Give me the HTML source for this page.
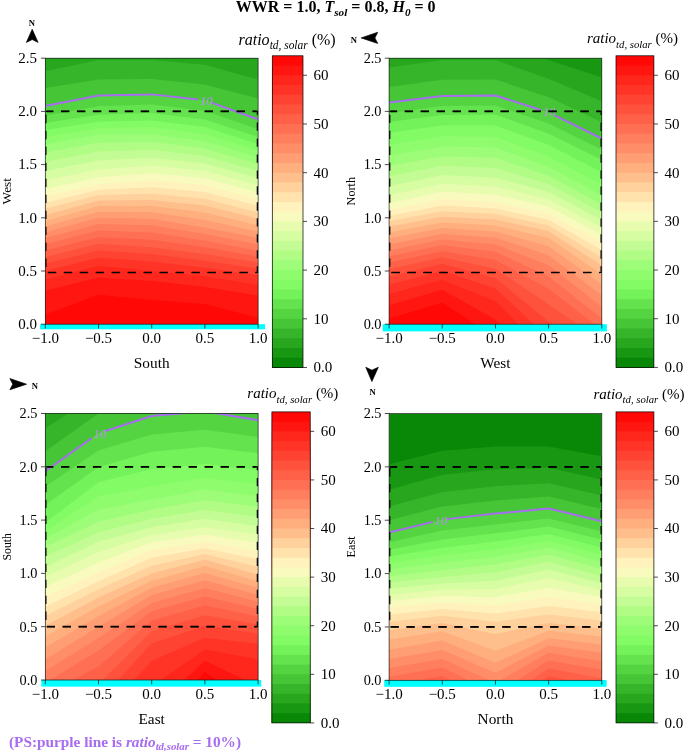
<!DOCTYPE html>
<html><head><meta charset="utf-8"><title>Figure</title><style>html,body{margin:0;padding:0;background:#fff}svg{display:block}</style></head><body>
<svg width="685" height="754" viewBox="0 0 685 754" font-family="'Liberation Serif', serif">
<rect width="685" height="754" fill="#fff"/>
<clipPath id="c0"><rect x="45.3" y="58.2" width="212.8" height="266"/></clipPath>
<g clip-path="url(#c0)">
<rect x="45.3" y="58.2" width="212.8" height="266" fill="#088806"/>
<path d="M45.3,37.51 98.5,24.51 151.7,25.47 204.9,28.62 258.1,32.19 258.1,724.2 45.3,724.2 Z" fill="#179712"/>
<path d="M45.3,54.4 98.5,42.24 151.7,42.7 204.9,46.55 258.1,55.84 258.1,724.2 45.3,724.2 Z" fill="#27a61e"/>
<path d="M45.3,71.29 98.5,60 151.7,59.95 204.9,64.79 258.1,79.48 258.1,724.2 45.3,724.2 Z" fill="#36b52a"/>
<path d="M45.3,88.1 98.5,79.45 151.7,78.88 204.9,84.62 258.1,98.63 258.1,724.2 45.3,724.2 Z" fill="#46c536"/>
<path d="M45.3,106.08 98.5,95.44 151.7,94.38 204.9,100.33 258.1,119.38 258.1,724.2 45.3,724.2 Z" fill="#55d442"/>
<path d="M45.3,115.87 98.5,106.19 151.7,104.59 204.9,110.79 258.1,129.23 258.1,724.2 45.3,724.2 Z" fill="#65e34e"/>
<path d="M45.3,123.1 98.5,114.8 151.7,113 204.9,119.38 258.1,136.94 258.1,724.2 45.3,724.2 Z" fill="#74f25a"/>
<path d="M45.3,130.1 98.5,121.87 151.7,120.46 204.9,127.08 258.1,144.05 258.1,724.2 45.3,724.2 Z" fill="#82fb64"/>
<path d="M45.3,137.03 98.5,128.14 151.7,127.28 204.9,134.12 258.1,150.56 258.1,724.2 45.3,724.2 Z" fill="#8efc6d"/>
<path d="M45.3,144.38 98.5,134.81 151.7,134.28 204.9,141.19 258.1,157.15 258.1,724.2 45.3,724.2 Z" fill="#9dfd78"/>
<path d="M45.3,152.62 98.5,142.66 151.7,141.84 204.9,148.58 258.1,164.08 258.1,724.2 45.3,724.2 Z" fill="#b0fc85"/>
<path d="M45.3,161.67 98.5,151.42 151.7,149.7 204.9,156.07 258.1,171.12 258.1,724.2 45.3,724.2 Z" fill="#c3fc94"/>
<path d="M45.3,171.12 98.5,160.59 151.7,157.7 204.9,163.57 258.1,178.21 258.1,724.2 45.3,724.2 Z" fill="#d7fda2"/>
<path d="M45.3,180.37 98.5,169.41 151.7,165.62 204.9,171 258.1,185.29 258.1,724.2 45.3,724.2 Z" fill="#e8fcb0"/>
<path d="M45.3,188.9 98.5,177.35 151.7,173.29 204.9,178.28 258.1,192.3 258.1,724.2 45.3,724.2 Z" fill="#f8fbbd"/>
<path d="M45.3,196.52 98.5,184.28 151.7,180.56 204.9,185.35 258.1,199.18 258.1,724.2 45.3,724.2 Z" fill="#fff2bc"/>
<path d="M45.3,202.91 98.5,189.8 151.7,187.32 204.9,192.03 258.1,205.9 258.1,724.2 45.3,724.2 Z" fill="#ffe2ac"/>
<path d="M45.3,208.86 98.5,194.92 151.7,193.75 204.9,198.65 258.1,212.48 258.1,724.2 45.3,724.2 Z" fill="#ffd19d"/>
<path d="M45.3,215 98.5,200.44 151.7,199.96 204.9,205.47 258.1,218.9 258.1,724.2 45.3,724.2 Z" fill="#ffbf8c"/>
<path d="M45.3,220.99 98.5,206.1 151.7,206.1 204.9,212.48 258.1,225.25 258.1,724.2 45.3,724.2 Z" fill="#ffae7e"/>
<path d="M45.3,226.58 98.5,211.85 151.7,212.29 204.9,219.97 258.1,231.63 258.1,724.2 45.3,724.2 Z" fill="#ff9e74"/>
<path d="M45.3,232.16 98.5,217.8 151.7,218.65 204.9,227.38 258.1,238.02 258.1,724.2 45.3,724.2 Z" fill="#ff8e68"/>
<path d="M45.3,238.07 98.5,224.08 151.7,225.37 204.9,234.12 258.1,244.47 258.1,724.2 45.3,724.2 Z" fill="#ff7e5e"/>
<path d="M45.3,244.19 98.5,230.57 151.7,232.38 204.9,240.68 258.1,250.78 258.1,724.2 45.3,724.2 Z" fill="#ff6f53"/>
<path d="M45.3,250.52 98.5,237.15 151.7,239.8 204.9,247.29 258.1,256.64 258.1,724.2 45.3,724.2 Z" fill="#ff6048"/>
<path d="M45.3,257.06 98.5,243.87 151.7,247.27 204.9,253.98 258.1,262.49 258.1,724.2 45.3,724.2 Z" fill="#ff523d"/>
<path d="M45.3,263.6 98.5,250.62 151.7,254.12 204.9,260.67 258.1,268.49 258.1,724.2 45.3,724.2 Z" fill="#ff4332"/>
<path d="M45.3,270.68 98.5,257.7 151.7,261.42 204.9,267.81 258.1,275.26 258.1,724.2 45.3,724.2 Z" fill="#ff3427"/>
<path d="M45.3,279.51 98.5,265.68 151.7,271 204.9,276.32 258.1,284.83 258.1,724.2 45.3,724.2 Z" fill="#ff261c"/>
<path d="M45.3,290.79 98.5,277.38 151.7,281.11 204.9,286.96 258.1,295.47 258.1,724.2 45.3,724.2 Z" fill="#ff1611"/>
<path d="M45.3,314.62 98.5,294.83 151.7,299.94 204.9,303.98 258.1,317.82 258.1,724.2 45.3,724.2 Z" fill="#ff0806"/>
<polyline points="45.3,106.08 98.5,95.44 151.7,94.38 198,99.56" fill="none" stroke="#a86cf0" stroke-width="2.0"/>
<polyline points="212,102.88 258.1,119.38" fill="none" stroke="#a86cf0" stroke-width="2.0"/>
<text x="206.3" y="105" font-size="12.8" font-style="italic" fill="#bd8af5" fill-opacity="1" text-anchor="middle">10</text>
</g>
<clipPath id="d0"><rect x="46.6" y="58.2" width="210.1" height="266"/></clipPath>
<path d="M45.8,111.4 H257.5 V272.49 H45.8 Z" stroke="#000" stroke-width="1.1" stroke-dasharray="8.3 7.67" stroke-dashoffset="0.8" fill="none"/>
<path d="M45.8,111.4 H257.5 V272.49 H45.8 Z" stroke="#000" stroke-width="1.7" stroke-dasharray="8.3 7.67" stroke-dashoffset="0.8" fill="none" clip-path="url(#d0)"/>
<rect x="40.1" y="324.2" width="224.9" height="5.1" fill="#00ffff"/>
<rect x="45.3" y="58.2" width="212.8" height="266" fill="none" stroke="#1a1a1a" stroke-width="0.7"/>
<path d="M45.3,324.2 v4.3 M98.5,324.2 v4.3 M151.7,324.2 v4.3 M204.9,324.2 v4.3 M258.1,324.2 v4.3 M45.3,324.2 h-4.3 M45.3,271 h-4.3 M45.3,217.8 h-4.3 M45.3,164.6 h-4.3 M45.3,111.4 h-4.3 M45.3,58.2 h-4.3" stroke="#111" stroke-width="0.75" fill="none"/>
<g font-size="15" fill="#000">
<text x="45.3" y="343.1" text-anchor="middle">−1.0</text>
<text x="98.5" y="343.1" text-anchor="middle">−0.5</text>
<text x="151.7" y="343.1" text-anchor="middle">0.0</text>
<text x="204.9" y="343.1" text-anchor="middle">0.5</text>
<text x="258.1" y="343.1" text-anchor="middle">1.0</text>
<text x="37" y="329" font-size="15" text-anchor="end">0.0</text>
<text x="37" y="275.8" font-size="15" text-anchor="end">0.5</text>
<text x="37" y="222.6" font-size="15" text-anchor="end">1.0</text>
<text x="37" y="169.4" font-size="15" text-anchor="end">1.5</text>
<text x="37" y="116.2" font-size="15" text-anchor="end">2.0</text>
<text x="37" y="63" font-size="15" text-anchor="end">2.5</text>
</g>
<text x="151.7" y="367.7" font-size="15.3" text-anchor="middle">South</text>
<text x="11.3" y="191.2" font-size="13.4" text-anchor="middle" transform="rotate(-90 11.3 191.2)">West</text>
<rect x="272.3" y="55.8" width="30.7" height="311.7" fill="#ff0806"/>
<rect x="272.3" y="65.54" width="30.7" height="301.96" fill="#ff1611"/>
<rect x="272.3" y="75.28" width="30.7" height="292.22" fill="#ff261c"/>
<rect x="272.3" y="85.02" width="30.7" height="282.48" fill="#ff3427"/>
<rect x="272.3" y="94.76" width="30.7" height="272.74" fill="#ff4332"/>
<rect x="272.3" y="104.5" width="30.7" height="263" fill="#ff523d"/>
<rect x="272.3" y="114.24" width="30.7" height="253.26" fill="#ff6048"/>
<rect x="272.3" y="123.98" width="30.7" height="243.52" fill="#ff6f53"/>
<rect x="272.3" y="133.73" width="30.7" height="233.77" fill="#ff7e5e"/>
<rect x="272.3" y="143.47" width="30.7" height="224.03" fill="#ff8e68"/>
<rect x="272.3" y="153.21" width="30.7" height="214.29" fill="#ff9e74"/>
<rect x="272.3" y="162.95" width="30.7" height="204.55" fill="#ffae7e"/>
<rect x="272.3" y="172.69" width="30.7" height="194.81" fill="#ffbf8c"/>
<rect x="272.3" y="182.43" width="30.7" height="185.07" fill="#ffd19d"/>
<rect x="272.3" y="192.17" width="30.7" height="175.33" fill="#ffe2ac"/>
<rect x="272.3" y="201.91" width="30.7" height="165.59" fill="#fff2bc"/>
<rect x="272.3" y="211.65" width="30.7" height="155.85" fill="#f8fbbd"/>
<rect x="272.3" y="221.39" width="30.7" height="146.11" fill="#e8fcb0"/>
<rect x="272.3" y="231.13" width="30.7" height="136.37" fill="#d7fda2"/>
<rect x="272.3" y="240.87" width="30.7" height="126.63" fill="#c3fc94"/>
<rect x="272.3" y="250.61" width="30.7" height="116.89" fill="#b0fc85"/>
<rect x="272.3" y="260.35" width="30.7" height="107.15" fill="#9dfd78"/>
<rect x="272.3" y="270.09" width="30.7" height="97.41" fill="#8efc6d"/>
<rect x="272.3" y="279.83" width="30.7" height="87.67" fill="#82fb64"/>
<rect x="272.3" y="289.57" width="30.7" height="77.93" fill="#74f25a"/>
<rect x="272.3" y="299.32" width="30.7" height="68.18" fill="#65e34e"/>
<rect x="272.3" y="309.06" width="30.7" height="58.44" fill="#55d442"/>
<rect x="272.3" y="318.8" width="30.7" height="48.7" fill="#46c536"/>
<rect x="272.3" y="328.54" width="30.7" height="38.96" fill="#36b52a"/>
<rect x="272.3" y="338.28" width="30.7" height="29.22" fill="#27a61e"/>
<rect x="272.3" y="348.02" width="30.7" height="19.48" fill="#179712"/>
<rect x="272.3" y="357.76" width="30.7" height="9.74" fill="#088806"/>
<rect x="272.3" y="55.8" width="30.7" height="311.7" fill="none" stroke="#000" stroke-width="0.7"/>
<g font-size="15" fill="#000">
<text x="313.5" y="372.4">0.0</text>
<text x="313.5" y="323.7">10</text>
<text x="313.5" y="274.99">20</text>
<text x="313.5" y="226.29">30</text>
<text x="313.5" y="177.59">40</text>
<text x="313.5" y="128.88">50</text>
<text x="313.5" y="80.18">60</text>
</g>
<path d="M303,367.5 h4 M303,318.8 h4 M303,270.09 h4 M303,221.39 h4 M303,172.69 h4 M303,123.98 h4 M303,75.28 h4" stroke="#111" stroke-width="0.75" fill="none"/>
<text x="238.5" y="44.6" font-size="16"><tspan font-style="italic">ratio</tspan><tspan font-style="italic" font-size="11.41" dy="4.2">td, solar</tspan><tspan dy="-4.2"> (%)</tspan></text>
<clipPath id="c1"><rect x="389.1" y="58.2" width="212.7" height="266"/></clipPath>
<g clip-path="url(#c1)">
<rect x="389.1" y="58.2" width="212.7" height="266" fill="#088806"/>
<path d="M389.1,31.58 442.27,24.03 495.45,24.51 548.62,42.45 601.8,55.07 601.8,724.2 389.1,724.2 Z" fill="#179712"/>
<path d="M389.1,49.33 442.27,42.01 495.45,42.24 548.62,59.97 601.8,77.42 601.8,724.2 389.1,724.2 Z" fill="#27a61e"/>
<path d="M389.1,67.57 442.27,60.03 495.45,60 548.62,78.87 601.8,101.33 601.8,724.2 389.1,724.2 Z" fill="#36b52a"/>
<path d="M389.1,86.9 442.27,79.84 495.45,79.49 548.62,97.24 601.8,122.1 601.8,724.2 389.1,724.2 Z" fill="#46c536"/>
<path d="M389.1,102.57 442.27,95.97 495.45,95.44 548.62,112.46 601.8,138.64 601.8,724.2 389.1,724.2 Z" fill="#55d442"/>
<path d="M389.1,113.21 442.27,106.08 495.45,105.48 548.62,123.61 601.8,149.78 601.8,724.2 389.1,724.2 Z" fill="#65e34e"/>
<path d="M389.1,122.04 442.27,115.12 495.45,114.59 548.62,133.74 601.8,159.81 601.8,724.2 389.1,724.2 Z" fill="#74f25a"/>
<path d="M389.1,132.72 442.27,125.55 495.45,125.42 548.62,145.06 601.8,171.89 601.8,724.2 389.1,724.2 Z" fill="#82fb64"/>
<path d="M389.1,144.49 442.27,136.31 495.45,136.81 548.62,156.47 601.8,184.46 601.8,724.2 389.1,724.2 Z" fill="#8efc6d"/>
<path d="M389.1,155.56 442.27,146.51 495.45,147.58 548.62,166.73 601.8,195.46 601.8,724.2 389.1,724.2 Z" fill="#9dfd78"/>
<path d="M389.1,165.98 442.27,156.25 495.45,157.81 548.62,175.77 601.8,204.51 601.8,724.2 389.1,724.2 Z" fill="#b0fc85"/>
<path d="M389.1,176.37 442.27,165.87 495.45,167.96 548.62,184.1 601.8,212.49 601.8,724.2 389.1,724.2 Z" fill="#c3fc94"/>
<path d="M389.1,186.19 442.27,175.09 495.45,177.65 548.62,191.94 601.8,219.98 601.8,724.2 389.1,724.2 Z" fill="#d7fda2"/>
<path d="M389.1,195.14 442.27,183.76 495.45,186.64 548.62,199.4 601.8,227.28 601.8,724.2 389.1,724.2 Z" fill="#e8fcb0"/>
<path d="M389.1,203.17 442.27,191.78 495.45,194.87 548.62,206.58 601.8,234.63 601.8,724.2 389.1,724.2 Z" fill="#f8fbbd"/>
<path d="M389.1,210.35 442.27,199.18 495.45,202.37 548.62,213.54 601.8,242.27 601.8,724.2 389.1,724.2 Z" fill="#fff2bc"/>
<path d="M389.1,215.89 442.27,205.58 495.45,208.59 548.62,219.77 601.8,249.99 601.8,724.2 389.1,724.2 Z" fill="#ffe2ac"/>
<path d="M389.1,220.99 442.27,211.27 495.45,214.04 548.62,225.45 601.8,257.6 601.8,724.2 389.1,724.2 Z" fill="#ffd19d"/>
<path d="M389.1,226.63 442.27,216.77 495.45,219.53 548.62,231.24 601.8,265.49 601.8,724.2 389.1,724.2 Z" fill="#ffbf8c"/>
<path d="M389.1,232.44 442.27,222.43 495.45,225.45 548.62,238.02 601.8,274.19 601.8,724.2 389.1,724.2 Z" fill="#ffae7e"/>
<path d="M389.1,238.38 442.27,228.08 495.45,231.43 548.62,246.28 601.8,284.17 601.8,724.2 389.1,724.2 Z" fill="#ff9e74"/>
<path d="M389.1,244.4 442.27,233.68 495.45,237.64 548.62,255.33 601.8,295.16 601.8,724.2 389.1,724.2 Z" fill="#ff8e68"/>
<path d="M389.1,250.37 442.27,239.38 495.45,244.4 548.62,265.31 601.8,306.83 601.8,724.2 389.1,724.2 Z" fill="#ff7e5e"/>
<path d="M389.1,256.33 442.27,245.3 495.45,251.86 548.62,276.47 601.8,318.54 601.8,724.2 389.1,724.2 Z" fill="#ff6f53"/>
<path d="M389.1,262.5 442.27,251.26 495.45,259.91 548.62,289.09 601.8,329.76 601.8,724.2 389.1,724.2 Z" fill="#ff6048"/>
<path d="M389.1,269.18 442.27,257.27 495.45,268.68 548.62,304.38 601.8,340.87 601.8,724.2 389.1,724.2 Z" fill="#ff523d"/>
<path d="M389.1,276.69 442.27,263.65 495.45,278.13 548.62,321.72 601.8,351.98 601.8,724.2 389.1,724.2 Z" fill="#ff4332"/>
<path d="M389.1,284.81 442.27,271 495.45,288.36 548.62,338.08 601.8,363.1 601.8,724.2 389.1,724.2 Z" fill="#ff3427"/>
<path d="M389.1,293.98 442.27,279.7 495.45,301.34 548.62,354.41 601.8,374.21 601.8,724.2 389.1,724.2 Z" fill="#ff261c"/>
<path d="M389.1,305.24 442.27,289.75 495.45,319.6 548.62,370.74 601.8,385.32 601.8,724.2 389.1,724.2 Z" fill="#ff1611"/>
<path d="M389.1,318.83 442.27,302.6 495.45,337.5 548.62,387.07 601.8,396.43 601.8,724.2 389.1,724.2 Z" fill="#ff0806"/>
<polyline points="389.1,102.57 442.27,95.97 495.45,95.44 541,110.02" fill="none" stroke="#a86cf0" stroke-width="2.0"/>
<polyline points="554.6,115.41 601.8,138.64" fill="none" stroke="#a86cf0" stroke-width="2.0"/>
<text x="549.2" y="115.8" font-size="12.8" font-style="italic" fill="#bd8af5" fill-opacity="1" text-anchor="middle">10</text>
</g>
<clipPath id="d1"><rect x="390.4" y="58.2" width="210" height="266"/></clipPath>
<path d="M389.6,111.4 H601.2 V272.49 H389.6 Z" stroke="#000" stroke-width="1.1" stroke-dasharray="8.3 7.67" stroke-dashoffset="0.8" fill="none"/>
<path d="M389.6,111.4 H601.2 V272.49 H389.6 Z" stroke="#000" stroke-width="1.7" stroke-dasharray="8.3 7.67" stroke-dashoffset="0.8" fill="none" clip-path="url(#d1)"/>
<rect x="382.7" y="324.2" width="224.2" height="7.2" fill="#00ffff"/>
<rect x="389.1" y="58.2" width="212.7" height="266" fill="none" stroke="#1a1a1a" stroke-width="0.7"/>
<path d="M389.1,324.2 v4.3 M442.27,324.2 v4.3 M495.45,324.2 v4.3 M548.62,324.2 v4.3 M601.8,324.2 v4.3 M389.1,324.2 h-4.3 M389.1,271 h-4.3 M389.1,217.8 h-4.3 M389.1,164.6 h-4.3 M389.1,111.4 h-4.3 M389.1,58.2 h-4.3" stroke="#111" stroke-width="0.75" fill="none"/>
<g font-size="15" fill="#000">
<text x="389.1" y="343.1" text-anchor="middle">−1.0</text>
<text x="442.27" y="343.1" text-anchor="middle">−0.5</text>
<text x="495.45" y="343.1" text-anchor="middle">0.0</text>
<text x="548.62" y="343.1" text-anchor="middle">0.5</text>
<text x="601.8" y="343.1" text-anchor="middle">1.0</text>
<text x="381.5" y="329" font-size="14.3" text-anchor="end">0.0</text>
<text x="381.5" y="275.8" font-size="14.3" text-anchor="end">0.5</text>
<text x="381.5" y="222.6" font-size="14.3" text-anchor="end">1.0</text>
<text x="381.5" y="169.4" font-size="14.3" text-anchor="end">1.5</text>
<text x="381.5" y="116.2" font-size="14.3" text-anchor="end">2.0</text>
<text x="381.5" y="63" font-size="14.3" text-anchor="end">2.5</text>
</g>
<text x="495.45" y="367.7" font-size="15.3" text-anchor="middle">West</text>
<text x="355.1" y="191.2" font-size="12.2" text-anchor="middle" transform="rotate(-90 355.1 191.2)">North</text>
<rect x="616" y="55.8" width="37.9" height="311.6" fill="#ff0806"/>
<rect x="616" y="65.54" width="37.9" height="301.86" fill="#ff1611"/>
<rect x="616" y="75.28" width="37.9" height="292.12" fill="#ff261c"/>
<rect x="616" y="85.01" width="37.9" height="282.39" fill="#ff3427"/>
<rect x="616" y="94.75" width="37.9" height="272.65" fill="#ff4332"/>
<rect x="616" y="104.49" width="37.9" height="262.91" fill="#ff523d"/>
<rect x="616" y="114.22" width="37.9" height="253.17" fill="#ff6048"/>
<rect x="616" y="123.96" width="37.9" height="243.44" fill="#ff6f53"/>
<rect x="616" y="133.7" width="37.9" height="233.7" fill="#ff7e5e"/>
<rect x="616" y="143.44" width="37.9" height="223.96" fill="#ff8e68"/>
<rect x="616" y="153.18" width="37.9" height="214.22" fill="#ff9e74"/>
<rect x="616" y="162.91" width="37.9" height="204.49" fill="#ffae7e"/>
<rect x="616" y="172.65" width="37.9" height="194.75" fill="#ffbf8c"/>
<rect x="616" y="182.39" width="37.9" height="185.01" fill="#ffd19d"/>
<rect x="616" y="192.12" width="37.9" height="175.27" fill="#ffe2ac"/>
<rect x="616" y="201.86" width="37.9" height="165.54" fill="#fff2bc"/>
<rect x="616" y="211.6" width="37.9" height="155.8" fill="#f8fbbd"/>
<rect x="616" y="221.34" width="37.9" height="146.06" fill="#e8fcb0"/>
<rect x="616" y="231.07" width="37.9" height="136.32" fill="#d7fda2"/>
<rect x="616" y="240.81" width="37.9" height="126.59" fill="#c3fc94"/>
<rect x="616" y="250.55" width="37.9" height="116.85" fill="#b0fc85"/>
<rect x="616" y="260.29" width="37.9" height="107.11" fill="#9dfd78"/>
<rect x="616" y="270.02" width="37.9" height="97.38" fill="#8efc6d"/>
<rect x="616" y="279.76" width="37.9" height="87.64" fill="#82fb64"/>
<rect x="616" y="289.5" width="37.9" height="77.9" fill="#74f25a"/>
<rect x="616" y="299.24" width="37.9" height="68.16" fill="#65e34e"/>
<rect x="616" y="308.97" width="37.9" height="58.43" fill="#55d442"/>
<rect x="616" y="318.71" width="37.9" height="48.69" fill="#46c536"/>
<rect x="616" y="328.45" width="37.9" height="38.95" fill="#36b52a"/>
<rect x="616" y="338.19" width="37.9" height="29.21" fill="#27a61e"/>
<rect x="616" y="347.92" width="37.9" height="19.48" fill="#179712"/>
<rect x="616" y="357.66" width="37.9" height="9.74" fill="#088806"/>
<rect x="616" y="55.8" width="37.9" height="311.6" fill="none" stroke="#000" stroke-width="0.7"/>
<g font-size="15" fill="#000">
<text x="664.4" y="372.3">0.0</text>
<text x="664.4" y="323.61">10</text>
<text x="664.4" y="274.92">20</text>
<text x="664.4" y="226.24">30</text>
<text x="664.4" y="177.55">40</text>
<text x="664.4" y="128.86">50</text>
<text x="664.4" y="80.18">60</text>
</g>
<path d="M653.9,367.4 h4 M653.9,318.71 h4 M653.9,270.02 h4 M653.9,221.34 h4 M653.9,172.65 h4 M653.9,123.96 h4 M653.9,75.28 h4" stroke="#111" stroke-width="0.75" fill="none"/>
<text x="586.9" y="43.4" font-size="15"><tspan font-style="italic">ratio</tspan><tspan font-style="italic" font-size="10.7" dy="4.2">td, solar</tspan><tspan dy="-4.2"> (%)</tspan></text>
<clipPath id="c2"><rect x="45.3" y="413.5" width="212.8" height="266.5"/></clipPath>
<g clip-path="url(#c2)">
<rect x="45.3" y="413.5" width="212.8" height="266.5" fill="#088806"/>
<path d="M45.3,384.07 98.5,354.34 151.7,313.72 204.9,339.15 258.1,330.67 258.1,1080 45.3,1080 Z" fill="#179712"/>
<path d="M45.3,405.87 98.5,374.06 151.7,339.31 204.9,357.08 258.1,353.06 258.1,1080 45.3,1080 Z" fill="#27a61e"/>
<path d="M45.3,428.29 98.5,393.78 151.7,364.89 204.9,375.1 258.1,375.44 258.1,1080 45.3,1080 Z" fill="#36b52a"/>
<path d="M45.3,451.35 98.5,413.5 151.7,390.47 204.9,393.2 258.1,397.83 258.1,1080 45.3,1080 Z" fill="#46c536"/>
<path d="M45.3,471.28 98.5,433.22 151.7,416.06 204.9,411.37 258.1,420.22 258.1,1080 45.3,1080 Z" fill="#55d442"/>
<path d="M45.3,486.52 98.5,450.56 151.7,434.61 204.9,429.7 258.1,437.06 258.1,1080 45.3,1080 Z" fill="#65e34e"/>
<path d="M45.3,504.91 98.5,466.89 151.7,451.77 204.9,446.87 258.1,453.37 258.1,1080 45.3,1080 Z" fill="#74f25a"/>
<path d="M45.3,522.58 98.5,482.14 151.7,468.93 204.9,464.03 258.1,470 258.1,1080 45.3,1080 Z" fill="#82fb64"/>
<path d="M45.3,531.36 98.5,496.35 151.7,486.16 204.9,477.68 258.1,484.09 258.1,1080 45.3,1080 Z" fill="#8efc6d"/>
<path d="M45.3,538.74 98.5,509.57 151.7,499.48 204.9,489.55 258.1,496.35 258.1,1080 45.3,1080 Z" fill="#9dfd78"/>
<path d="M45.3,546.75 98.5,521.86 151.7,509.62 204.9,500.29 258.1,507.02 258.1,1080 45.3,1080 Z" fill="#b0fc85"/>
<path d="M45.3,556.44 98.5,532.23 151.7,518.76 204.9,509.91 258.1,516.8 258.1,1080 45.3,1080 Z" fill="#c3fc94"/>
<path d="M45.3,566.75 98.5,541.81 151.7,527.23 204.9,518.81 258.1,526.02 258.1,1080 45.3,1080 Z" fill="#d7fda2"/>
<path d="M45.3,576.93 98.5,551.93 151.7,534.92 204.9,527.14 258.1,534.62 258.1,1080 45.3,1080 Z" fill="#e8fcb0"/>
<path d="M45.3,587.07 98.5,562.49 151.7,542.37 204.9,534.84 258.1,542.87 258.1,1080 45.3,1080 Z" fill="#f8fbbd"/>
<path d="M45.3,597.1 98.5,572.46 151.7,549.95 204.9,541.95 258.1,551.01 258.1,1080 45.3,1080 Z" fill="#fff2bc"/>
<path d="M45.3,606.72 98.5,581.16 151.7,557.81 204.9,548.22 258.1,559.11 258.1,1080 45.3,1080 Z" fill="#ffe2ac"/>
<path d="M45.3,616.01 98.5,589.17 151.7,565.69 204.9,553.94 258.1,566.99 258.1,1080 45.3,1080 Z" fill="#ffd19d"/>
<path d="M45.3,625.68 98.5,597.39 151.7,573.4 204.9,559.66 258.1,574.49 258.1,1080 45.3,1080 Z" fill="#ffbf8c"/>
<path d="M45.3,636.32 98.5,606.52 151.7,580.68 204.9,565.94 258.1,581.45 258.1,1080 45.3,1080 Z" fill="#ffae7e"/>
<path d="M45.3,647.61 98.5,616.22 151.7,587.73 204.9,572.96 258.1,588.11 258.1,1080 45.3,1080 Z" fill="#ff9e74"/>
<path d="M45.3,659.16 98.5,626.7 151.7,594.98 204.9,580.31 258.1,594.8 258.1,1080 45.3,1080 Z" fill="#ff8e68"/>
<path d="M45.3,671.05 98.5,637.95 151.7,602.92 204.9,588.09 258.1,601.85 258.1,1080 45.3,1080 Z" fill="#ff7e5e"/>
<path d="M45.3,682.96 98.5,650.51 151.7,611.35 204.9,596.4 258.1,609 258.1,1080 45.3,1080 Z" fill="#ff6f53"/>
<path d="M45.3,694.81 98.5,666.52 151.7,620.51 204.9,605.38 258.1,616.37 258.1,1080 45.3,1080 Z" fill="#ff6048"/>
<path d="M45.3,706.65 98.5,684.3 151.7,631.16 204.9,615.28 258.1,624.46 258.1,1080 45.3,1080 Z" fill="#ff523d"/>
<path d="M45.3,718.49 98.5,701.49 151.7,643.3 204.9,626.12 258.1,633.65 258.1,1080 45.3,1080 Z" fill="#ff4332"/>
<path d="M45.3,730.34 98.5,718.69 151.7,660.67 204.9,637.68 258.1,643.77 258.1,1080 45.3,1080 Z" fill="#ff3427"/>
<path d="M45.3,742.18 98.5,735.88 151.7,686.06 204.9,649.44 258.1,659.51 258.1,1080 45.3,1080 Z" fill="#ff261c"/>
<path d="M45.3,754.03 98.5,753.07 151.7,710.28 204.9,660.81 258.1,686.35 258.1,1080 45.3,1080 Z" fill="#ff1611"/>
<path d="M45.3,765.87 98.5,770.27 151.7,734.51 204.9,671.79 258.1,711.73 258.1,1080 45.3,1080 Z" fill="#ff0806"/>
<polyline points="45.3,471.28 91.9,437.94" fill="none" stroke="#a86cf0" stroke-width="2.0"/>
<polyline points="105.5,430.96 151.7,416.06 204.9,411.37 258.1,420.22" fill="none" stroke="#a86cf0" stroke-width="2.0"/>
<text x="99.7" y="438" font-size="12.8" font-style="italic" fill="#bd8af5" fill-opacity="1" text-anchor="middle">10</text>
</g>
<clipPath id="d2"><rect x="46.6" y="413.5" width="210.1" height="266.5"/></clipPath>
<path d="M45.8,466.8 H257.5 V626.7 H45.8 Z" stroke="#000" stroke-width="1.1" stroke-dasharray="8.3 7.67" stroke-dashoffset="0.8" fill="none"/>
<path d="M45.8,466.8 H257.5 V626.7 H45.8 Z" stroke="#000" stroke-width="1.7" stroke-dasharray="8.3 7.67" stroke-dashoffset="0.8" fill="none" clip-path="url(#d2)"/>
<rect x="41.3" y="680" width="219.9" height="6.6" fill="#00ffff"/>
<rect x="45.3" y="413.5" width="212.8" height="266.5" fill="none" stroke="#1a1a1a" stroke-width="0.7"/>
<path d="M45.3,680 v4.3 M98.5,680 v4.3 M151.7,680 v4.3 M204.9,680 v4.3 M258.1,680 v4.3 M45.3,680 h-4.3 M45.3,626.7 h-4.3 M45.3,573.4 h-4.3 M45.3,520.1 h-4.3 M45.3,466.8 h-4.3 M45.3,413.5 h-4.3" stroke="#111" stroke-width="0.75" fill="none"/>
<g font-size="15" fill="#000">
<text x="45.3" y="698.9" text-anchor="middle">−1.0</text>
<text x="98.5" y="698.9" text-anchor="middle">−0.5</text>
<text x="151.7" y="698.9" text-anchor="middle">0.0</text>
<text x="204.9" y="698.9" text-anchor="middle">0.5</text>
<text x="258.1" y="698.9" text-anchor="middle">1.0</text>
<text x="37.4" y="684.8" font-size="14.3" text-anchor="end">0.0</text>
<text x="37.4" y="631.5" font-size="14.3" text-anchor="end">0.5</text>
<text x="37.4" y="578.2" font-size="14.3" text-anchor="end">1.0</text>
<text x="37.4" y="524.9" font-size="14.3" text-anchor="end">1.5</text>
<text x="37.4" y="471.6" font-size="14.3" text-anchor="end">2.0</text>
<text x="37.4" y="418.3" font-size="14.3" text-anchor="end">2.5</text>
</g>
<text x="151.7" y="723.5" font-size="15.3" text-anchor="middle">East</text>
<text x="11.3" y="546.75" font-size="11.8" text-anchor="middle" transform="rotate(-90 11.3 546.75)">South</text>
<rect x="271.9" y="411.9" width="38.3" height="311" fill="#ff0806"/>
<rect x="271.9" y="421.62" width="38.3" height="301.28" fill="#ff1611"/>
<rect x="271.9" y="431.34" width="38.3" height="291.56" fill="#ff261c"/>
<rect x="271.9" y="441.06" width="38.3" height="281.84" fill="#ff3427"/>
<rect x="271.9" y="450.77" width="38.3" height="272.12" fill="#ff4332"/>
<rect x="271.9" y="460.49" width="38.3" height="262.41" fill="#ff523d"/>
<rect x="271.9" y="470.21" width="38.3" height="252.69" fill="#ff6048"/>
<rect x="271.9" y="479.93" width="38.3" height="242.97" fill="#ff6f53"/>
<rect x="271.9" y="489.65" width="38.3" height="233.25" fill="#ff7e5e"/>
<rect x="271.9" y="499.37" width="38.3" height="223.53" fill="#ff8e68"/>
<rect x="271.9" y="509.09" width="38.3" height="213.81" fill="#ff9e74"/>
<rect x="271.9" y="518.81" width="38.3" height="204.09" fill="#ffae7e"/>
<rect x="271.9" y="528.52" width="38.3" height="194.38" fill="#ffbf8c"/>
<rect x="271.9" y="538.24" width="38.3" height="184.66" fill="#ffd19d"/>
<rect x="271.9" y="547.96" width="38.3" height="174.94" fill="#ffe2ac"/>
<rect x="271.9" y="557.68" width="38.3" height="165.22" fill="#fff2bc"/>
<rect x="271.9" y="567.4" width="38.3" height="155.5" fill="#f8fbbd"/>
<rect x="271.9" y="577.12" width="38.3" height="145.78" fill="#e8fcb0"/>
<rect x="271.9" y="586.84" width="38.3" height="136.06" fill="#d7fda2"/>
<rect x="271.9" y="596.56" width="38.3" height="126.34" fill="#c3fc94"/>
<rect x="271.9" y="606.27" width="38.3" height="116.62" fill="#b0fc85"/>
<rect x="271.9" y="615.99" width="38.3" height="106.91" fill="#9dfd78"/>
<rect x="271.9" y="625.71" width="38.3" height="97.19" fill="#8efc6d"/>
<rect x="271.9" y="635.43" width="38.3" height="87.47" fill="#82fb64"/>
<rect x="271.9" y="645.15" width="38.3" height="77.75" fill="#74f25a"/>
<rect x="271.9" y="654.87" width="38.3" height="68.03" fill="#65e34e"/>
<rect x="271.9" y="664.59" width="38.3" height="58.31" fill="#55d442"/>
<rect x="271.9" y="674.31" width="38.3" height="48.59" fill="#46c536"/>
<rect x="271.9" y="684.02" width="38.3" height="38.88" fill="#36b52a"/>
<rect x="271.9" y="693.74" width="38.3" height="29.16" fill="#27a61e"/>
<rect x="271.9" y="703.46" width="38.3" height="19.44" fill="#179712"/>
<rect x="271.9" y="713.18" width="38.3" height="9.72" fill="#088806"/>
<rect x="271.9" y="411.9" width="38.3" height="311" fill="none" stroke="#000" stroke-width="0.7"/>
<g font-size="15" fill="#000">
<text x="320.7" y="727.8">0.0</text>
<text x="320.7" y="679.21">10</text>
<text x="320.7" y="630.61">20</text>
<text x="320.7" y="582.02">30</text>
<text x="320.7" y="533.42">40</text>
<text x="320.7" y="484.83">50</text>
<text x="320.7" y="436.24">60</text>
</g>
<path d="M310.2,722.9 h4 M310.2,674.31 h4 M310.2,625.71 h4 M310.2,577.12 h4 M310.2,528.52 h4 M310.2,479.93 h4 M310.2,431.34 h4" stroke="#111" stroke-width="0.75" fill="none"/>
<text x="247.3" y="398.4" font-size="15"><tspan font-style="italic">ratio</tspan><tspan font-style="italic" font-size="10.7" dy="4.2">td, solar</tspan><tspan dy="-4.2"> (%)</tspan></text>
<clipPath id="c3"><rect x="389.1" y="413.5" width="212.7" height="266.8"/></clipPath>
<g clip-path="url(#c3)">
<rect x="389.1" y="413.5" width="212.7" height="266.8" fill="#088806"/>
<path d="M389.1,464.19 442.27,450.85 495.45,446.58 548.62,446.58 601.8,456.19 601.8,1080.3 389.1,1080.3 Z" fill="#179712"/>
<path d="M389.1,489.65 442.27,474.71 495.45,469.28 548.62,467.82 601.8,479.49 601.8,1080.3 389.1,1080.3 Z" fill="#27a61e"/>
<path d="M389.1,506.38 442.27,491.91 495.45,486.17 548.62,483.26 601.8,495.44 601.8,1080.3 389.1,1080.3 Z" fill="#36b52a"/>
<path d="M389.1,520.26 442.27,506.48 495.45,500.59 548.62,496.47 601.8,508.97 601.8,1080.3 389.1,1080.3 Z" fill="#46c536"/>
<path d="M389.1,532.6 442.27,519.58 495.45,513.6 548.62,508.48 601.8,521.29 601.8,1080.3 389.1,1080.3 Z" fill="#55d442"/>
<path d="M389.1,542.18 442.27,530.5 495.45,524.38 548.62,518.41 601.8,531.49 601.8,1080.3 389.1,1080.3 Z" fill="#65e34e"/>
<path d="M389.1,549.75 442.27,539.56 495.45,533.32 548.62,526.58 601.8,539.87 601.8,1080.3 389.1,1080.3 Z" fill="#74f25a"/>
<path d="M389.1,556.56 442.27,547.71 495.45,541.43 548.62,533.96 601.8,547.46 601.8,1080.3 389.1,1080.3 Z" fill="#82fb64"/>
<path d="M389.1,563.07 442.27,555.35 495.45,549.14 548.62,540.95 601.8,554.65 601.8,1080.3 389.1,1080.3 Z" fill="#8efc6d"/>
<path d="M389.1,569.57 442.27,562.71 495.45,556.71 548.62,547.78 601.8,561.7 601.8,1080.3 389.1,1080.3 Z" fill="#9dfd78"/>
<path d="M389.1,576.25 442.27,569.96 495.45,564.36 548.62,554.66 601.8,568.82 601.8,1080.3 389.1,1080.3 Z" fill="#b0fc85"/>
<path d="M389.1,582.62 442.27,577.08 495.45,572.34 548.62,561.77 601.8,576.16 601.8,1080.3 389.1,1080.3 Z" fill="#c3fc94"/>
<path d="M389.1,588.76 442.27,583.58 495.45,580.65 548.62,569.41 601.8,583.27 601.8,1080.3 389.1,1080.3 Z" fill="#d7fda2"/>
<path d="M389.1,594.85 442.27,589.77 495.45,588.93 548.62,578.06 601.8,590.21 601.8,1080.3 389.1,1080.3 Z" fill="#e8fcb0"/>
<path d="M389.1,601.1 442.27,595.94 495.45,597.22 548.62,587.63 601.8,597.21 601.8,1080.3 389.1,1080.3 Z" fill="#f8fbbd"/>
<path d="M389.1,607.73 442.27,602.39 495.45,605.6 548.62,597.06 601.8,604.53 601.8,1080.3 389.1,1080.3 Z" fill="#fff2bc"/>
<path d="M389.1,614.75 442.27,609.07 495.45,613.56 548.62,605.95 601.8,612.34 601.8,1080.3 389.1,1080.3 Z" fill="#ffe2ac"/>
<path d="M389.1,622.09 442.27,615.85 495.45,621.81 548.62,614.59 601.8,620.45 601.8,1080.3 389.1,1080.3 Z" fill="#ffd19d"/>
<path d="M389.1,630.14 442.27,623.04 495.45,633.88 548.62,622.91 601.8,628.55 601.8,1080.3 389.1,1080.3 Z" fill="#ffbf8c"/>
<path d="M389.1,639.57 442.27,631.15 495.45,650.85 548.62,630.83 601.8,636.57 601.8,1080.3 389.1,1080.3 Z" fill="#ffae7e"/>
<path d="M389.1,649.76 442.27,640.4 495.45,662.78 548.62,638.24 601.8,644.62 601.8,1080.3 389.1,1080.3 Z" fill="#ff9e74"/>
<path d="M389.1,659.12 442.27,649.97 495.45,672.76 548.62,645.48 601.8,652.79 601.8,1080.3 389.1,1080.3 Z" fill="#ff8e68"/>
<path d="M389.1,668 442.27,658.9 495.45,682.92 548.62,652.86 601.8,661.15 601.8,1080.3 389.1,1080.3 Z" fill="#ff7e5e"/>
<path d="M389.1,676.76 442.27,667.5 495.45,693.38 548.62,660.57 601.8,669.65 601.8,1080.3 389.1,1080.3 Z" fill="#ff6f53"/>
<path d="M389.1,685.64 442.27,676.02 495.45,703.84 548.62,668.45 601.8,678.18 601.8,1080.3 389.1,1080.3 Z" fill="#ff6048"/>
<path d="M389.1,694.53 442.27,684.6 495.45,714.3 548.62,676.36 601.8,686.65 601.8,1080.3 389.1,1080.3 Z" fill="#ff523d"/>
<polyline points="389.1,532.6 433,521.85" fill="none" stroke="#a86cf0" stroke-width="2.0"/>
<polyline points="446.3,519.13 495.45,513.6 548.62,508.48 601.8,521.29" fill="none" stroke="#a86cf0" stroke-width="2.0"/>
<text x="441" y="524.9" font-size="12.8" font-style="italic" fill="#bd8af5" fill-opacity="1" text-anchor="middle">10</text>
</g>
<clipPath id="d3"><rect x="390.4" y="413.5" width="210" height="266.8"/></clipPath>
<path d="M389.6,466.86 H601.2 V626.94 H389.6 Z" stroke="#000" stroke-width="1.1" stroke-dasharray="8.3 7.67" stroke-dashoffset="0.8" fill="none"/>
<path d="M389.6,466.86 H601.2 V626.94 H389.6 Z" stroke="#000" stroke-width="1.7" stroke-dasharray="8.3 7.67" stroke-dashoffset="0.8" fill="none" clip-path="url(#d3)"/>
<rect x="384.2" y="680" width="222.4" height="6.8" fill="#00ffff"/>
<rect x="389.1" y="413.5" width="212.7" height="266.8" fill="none" stroke="#1a1a1a" stroke-width="0.7"/>
<path d="M389.1,680.3 v4.3 M442.27,680.3 v4.3 M495.45,680.3 v4.3 M548.62,680.3 v4.3 M601.8,680.3 v4.3 M389.1,680.3 h-4.3 M389.1,626.94 h-4.3 M389.1,573.58 h-4.3 M389.1,520.22 h-4.3 M389.1,466.86 h-4.3 M389.1,413.5 h-4.3" stroke="#111" stroke-width="0.75" fill="none"/>
<g font-size="15" fill="#000">
<text x="389.1" y="699.2" text-anchor="middle">−1.0</text>
<text x="442.27" y="699.2" text-anchor="middle">−0.5</text>
<text x="495.45" y="699.2" text-anchor="middle">0.0</text>
<text x="548.62" y="699.2" text-anchor="middle">0.5</text>
<text x="601.8" y="699.2" text-anchor="middle">1.0</text>
<text x="381.5" y="685.1" font-size="14.3" text-anchor="end">0.0</text>
<text x="381.5" y="631.74" font-size="14.3" text-anchor="end">0.5</text>
<text x="381.5" y="578.38" font-size="14.3" text-anchor="end">1.0</text>
<text x="381.5" y="525.02" font-size="14.3" text-anchor="end">1.5</text>
<text x="381.5" y="471.66" font-size="14.3" text-anchor="end">2.0</text>
<text x="381.5" y="418.3" font-size="14.3" text-anchor="end">2.5</text>
</g>
<text x="495.45" y="723.8" font-size="15.3" text-anchor="middle">North</text>
<text x="355.1" y="546.9" font-size="12.2" text-anchor="middle" transform="rotate(-90 355.1 546.9)">East</text>
<rect x="616" y="411.9" width="37.9" height="311" fill="#ff0806"/>
<rect x="616" y="421.62" width="37.9" height="301.28" fill="#ff1611"/>
<rect x="616" y="431.34" width="37.9" height="291.56" fill="#ff261c"/>
<rect x="616" y="441.06" width="37.9" height="281.84" fill="#ff3427"/>
<rect x="616" y="450.77" width="37.9" height="272.12" fill="#ff4332"/>
<rect x="616" y="460.49" width="37.9" height="262.41" fill="#ff523d"/>
<rect x="616" y="470.21" width="37.9" height="252.69" fill="#ff6048"/>
<rect x="616" y="479.93" width="37.9" height="242.97" fill="#ff6f53"/>
<rect x="616" y="489.65" width="37.9" height="233.25" fill="#ff7e5e"/>
<rect x="616" y="499.37" width="37.9" height="223.53" fill="#ff8e68"/>
<rect x="616" y="509.09" width="37.9" height="213.81" fill="#ff9e74"/>
<rect x="616" y="518.81" width="37.9" height="204.09" fill="#ffae7e"/>
<rect x="616" y="528.52" width="37.9" height="194.38" fill="#ffbf8c"/>
<rect x="616" y="538.24" width="37.9" height="184.66" fill="#ffd19d"/>
<rect x="616" y="547.96" width="37.9" height="174.94" fill="#ffe2ac"/>
<rect x="616" y="557.68" width="37.9" height="165.22" fill="#fff2bc"/>
<rect x="616" y="567.4" width="37.9" height="155.5" fill="#f8fbbd"/>
<rect x="616" y="577.12" width="37.9" height="145.78" fill="#e8fcb0"/>
<rect x="616" y="586.84" width="37.9" height="136.06" fill="#d7fda2"/>
<rect x="616" y="596.56" width="37.9" height="126.34" fill="#c3fc94"/>
<rect x="616" y="606.27" width="37.9" height="116.62" fill="#b0fc85"/>
<rect x="616" y="615.99" width="37.9" height="106.91" fill="#9dfd78"/>
<rect x="616" y="625.71" width="37.9" height="97.19" fill="#8efc6d"/>
<rect x="616" y="635.43" width="37.9" height="87.47" fill="#82fb64"/>
<rect x="616" y="645.15" width="37.9" height="77.75" fill="#74f25a"/>
<rect x="616" y="654.87" width="37.9" height="68.03" fill="#65e34e"/>
<rect x="616" y="664.59" width="37.9" height="58.31" fill="#55d442"/>
<rect x="616" y="674.31" width="37.9" height="48.59" fill="#46c536"/>
<rect x="616" y="684.02" width="37.9" height="38.88" fill="#36b52a"/>
<rect x="616" y="693.74" width="37.9" height="29.16" fill="#27a61e"/>
<rect x="616" y="703.46" width="37.9" height="19.44" fill="#179712"/>
<rect x="616" y="713.18" width="37.9" height="9.72" fill="#088806"/>
<rect x="616" y="411.9" width="37.9" height="311" fill="none" stroke="#000" stroke-width="0.7"/>
<g font-size="15" fill="#000">
<text x="664.4" y="727.8">0.0</text>
<text x="664.4" y="679.21">10</text>
<text x="664.4" y="630.61">20</text>
<text x="664.4" y="582.02">30</text>
<text x="664.4" y="533.42">40</text>
<text x="664.4" y="484.83">50</text>
<text x="664.4" y="436.24">60</text>
</g>
<path d="M653.9,722.9 h4 M653.9,674.31 h4 M653.9,625.71 h4 M653.9,577.12 h4 M653.9,528.52 h4 M653.9,479.93 h4 M653.9,431.34 h4" stroke="#111" stroke-width="0.75" fill="none"/>
<text x="593.4" y="398.9" font-size="15"><tspan font-style="italic">ratio</tspan><tspan font-style="italic" font-size="10.7" dy="4.2">td, solar</tspan><tspan dy="-4.2"> (%)</tspan></text>
<path d="M32.2,29.3 L26.4,42.4 L32.2,39.5 L38.1,42.4 Z" fill="#000" stroke="#000" stroke-width="0.7" stroke-linejoin="round"/>
<path d="M361.2,37.9 L377.7,32.3 L374.9,37.9 L377.7,43.4 Z" fill="#000" stroke="#000" stroke-width="0.7" stroke-linejoin="round"/>
<path d="M26.5,384.2 L9.9,378.6 L12.8,384.2 L9.9,389.7 Z" fill="#000" stroke="#000" stroke-width="0.7" stroke-linejoin="round"/>
<path d="M371.9,381.5 L365.8,367.3 L371.9,370.2 L378.3,367.3 Z" fill="#000" stroke="#000" stroke-width="0.7" stroke-linejoin="round"/>
<g font-size="8.6" font-weight="bold" text-anchor="middle">
<text x="31.9" y="26.2">N</text>
<text x="353.9" y="42.6">N</text>
<text x="34.9" y="388.8">N</text>
<text x="372.7" y="395.4">N</text>
</g>
<text x="335.7" y="12.3" font-size="16" font-weight="bold" text-anchor="middle">WWR = 1.0, <tspan font-style="italic">T</tspan><tspan font-style="italic" font-size="11.2" dy="3.4">sol</tspan><tspan dy="-3.4"> = 0.8, </tspan><tspan font-style="italic">H</tspan><tspan font-style="italic" font-size="11.2" dy="3.4">0</tspan><tspan dy="-3.4"> = 0</tspan></text>
<text x="9.0" y="746.8" font-size="15.3" font-weight="bold" fill="#a86cf0">(PS:purple line is <tspan font-style="italic">ratio</tspan><tspan font-style="italic" font-size="10.8" dy="3.6">td,solar</tspan><tspan dy="-3.6"> = 10%)</tspan></text>
</svg>
</body></html>
